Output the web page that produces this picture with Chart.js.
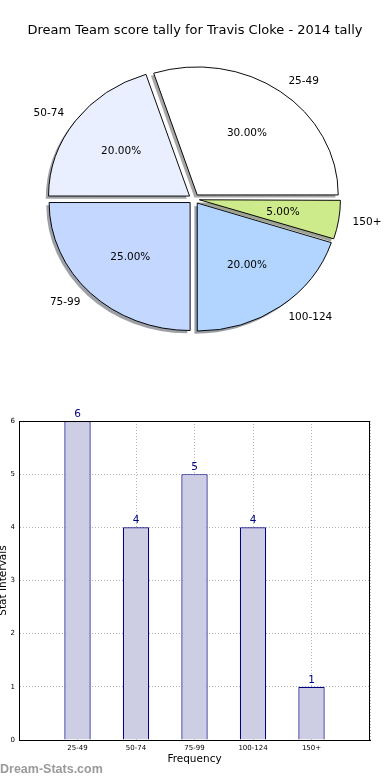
<!DOCTYPE html>
<html>
<head>
<meta charset="utf-8">
<script src="https://cdn.jsdelivr.net/npm/chart.js@4/dist/chart.umd.min.js"></script>
<style>
  body { margin: 0; background: #fff; }
  #wrap { position: relative; width: 390px; height: 780px; overflow: hidden; }
  #title { position: absolute; left: 0; top: 22px; width: 390px; text-align: center;
           font: 13px "DejaVu Sans"; color: #000; }
  #pieBox { position: absolute; left: 0; top: 0; width: 390px; height: 380px; }
  #barBox { position: absolute; left: 0; top: 380px; width: 390px; height: 400px; }
  #mark { position: absolute; left: 0; top: 762px; font: bold 12.5px "Liberation Sans"; color: #9a9a9a; }
</style>
</head>
<body>
<div id="wrap">
  <div id="pieBox"><canvas id="pieChart" width="390" height="380"></canvas></div>
  <div id="barBox"><canvas id="barChart" width="390" height="400"></canvas></div>
  <div id="title">Dream Team score tally for Travis Cloke - 2014 tally</div>
  <div id="mark">Dream-Stats.com</div>
</div>
<script>
const categories = ['25-49', '50-74', '75-99', '100-124', '150+'];
const counts = [6, 4, 5, 4, 1];
const pieColors = ['#ffffff', '#e9effe', '#c4d7ff', '#b1d5ff', '#cdeb8b'];
const yTicks = [0, 1, 2, 3, 4, 5, 6];

Chart.defaults.font.family = 'DejaVu Sans';
Chart.defaults.color = '#000';

const total = counts.reduce((a, b) => a + b, 0);
// matplotlib goes counter-clockwise from 3 o'clock, chart.js goes clockwise
const order = categories.map((c, i) => i).reverse();
const K = 128 / 141; // pie is squashed vertically

function shadowOf(hex) {
  const n = parseInt(hex.slice(1), 16);
  const r = ((n >> 16) & 255) * 0.3, g = ((n >> 8) & 255) * 0.3, b = (n & 255) * 0.3;
  return 'rgba(' + Math.round(r) + ',' + Math.round(g) + ',' + Math.round(b) + ',0.5)';
}

const ellipsePie = {
  id: 'ellipsePie',
  beforeDatasetsDraw(chart) {
    const ctx = chart.ctx;
    const arcs = chart.getDatasetMeta(0).data;
    const cx = arcs[0].x, cy = arcs[0].y;
    // chart.js grows small exploded slices a bit, undo that
    arcs.forEach(arc => {
      arc.baseR = arc.outerRadius;
      const fix = 1 - Math.sin(Math.min(Math.PI, arc.circumference));
      arc.outerRadius = arc.baseR - arc.options.offset / 4 * fix;
    });
    ctx.save();
    ctx.translate(cx, cy);
    ctx.scale(1, K);
    ctx.translate(-cx, -cy);
    // shadows first
    arcs.forEach((arc, j) => {
      const fake = Object.create(arc);
      fake.options = Object.assign({}, arc.options, {
        backgroundColor: shadowOf(pieColors[order[j]]),
        borderWidth: 0
      });
      ctx.save();
      ctx.translate(-2.8, 2.6 / K);
      arc.draw.call(fake, ctx);
      ctx.restore();
    });
  },
  afterDatasetsDraw(chart) {
    const ctx = chart.ctx;
    ctx.restore();
    const arcs = chart.getDatasetMeta(0).data;
    ctx.save();
    ctx.fillStyle = '#000';
    ctx.font = '10.5px "DejaVu Sans"';
    ctx.textBaseline = 'middle';
    arcs.forEach((arc, j) => {
      arc.outerRadius = arc.baseR;
      const i = order[j];
      const mid = (arc.startAngle + arc.endAngle) / 2;
      const off = arc.options.offset / 4;
      const R = arc.outerRadius;
      const px = r => arc.x + Math.cos(mid) * (off + r);
      const py = r => arc.y + K * Math.sin(mid) * (off + r);
      ctx.textAlign = Math.cos(mid) > 0 ? 'left' : 'right';
      ctx.fillText(categories[i], px(1.1 * R), py(1.1 * R));
      ctx.textAlign = 'center';
      ctx.fillText((counts[i] / total * 100).toFixed(2) + '%', px(0.6 * R), py(0.6 * R));
    });
    ctx.restore();
  }
};

new Chart(document.getElementById('pieChart').getContext('2d'), {
  type: 'pie',
  data: {
    labels: order.map(i => categories[i]),
    datasets: [{
      data: order.map(i => counts[i]),
      backgroundColor: order.map(i => pieColors[i]),
      borderColor: '#000',
      borderWidth: 1,
      offset: 22,
      clip: false
    }]
  },
  options: {
    responsive: false,
    animation: false,
    rotation: 90,
    radius: 141,
    layout: { padding: { left: 0, right: 2, top: 20, bottom: 2 } },
    plugins: { legend: { display: false }, tooltip: { enabled: false } }
  },
  plugins: [ellipsePie]
});

// bar chart
const barExtras = {
  id: 'barExtras',
  afterDraw(chart) {
    const ctx = chart.ctx;
    const a = chart.chartArea;
    ctx.save();
    ctx.strokeStyle = '#000';
    ctx.lineWidth = 1;
    ctx.strokeRect(Math.round(a.left) + 0.5, Math.round(a.top) + 0.5,
                   Math.round(a.right - a.left) - 1, Math.round(a.bottom - a.top));
    ctx.fillStyle = '#000080';
    ctx.font = '10.5px "DejaVu Sans"';
    ctx.textAlign = 'center';
    ctx.textBaseline = 'alphabetic';
    chart.getDatasetMeta(0).data.forEach((bar, i) => {
      ctx.fillText(String(counts[i]), bar.x, bar.y - 4);
    });
    ctx.restore();
  }
};

new Chart(document.getElementById('barChart').getContext('2d'), {
  type: 'bar',
  data: {
    datasets: [{
      data: counts.map((v, i) => ({ x: i + 1, y: v })),
      backgroundColor: '#cdcde4',
      borderColor: '#000080',
      borderWidth: 1.2,
      barPercentage: 0.45,
      categoryPercentage: 1
    }]
  },
  options: {
    responsive: false,
    animation: false,
    layout: { padding: { left: 0, right: 20, top: 41, bottom: 0 } },
    plugins: { legend: { display: false }, tooltip: { enabled: false } },
    scales: {
      x: {
        type: 'linear',
        offset: false,
        min: 0,
        max: categories.length + 1,
        z: 1,
        afterFit(s) { s.height = 40; },
        ticks: {
          stepSize: 1,
          autoSkip: false,
          maxRotation: 0,
          padding: 4,
          font: { size: 7 },
          color: '#000',
          callback: v => categories[v - 1] || ''
        },
        grid: { offset: false, color: '#b4b4b4', lineWidth: 1, drawTicks: false },
        border: { color: '#000', width: 1, dash: [1, 2] },
        title: { display: true, text: 'Frequency', font: { size: 10.5 }, color: '#000',
                 padding: { top: 0, bottom: 14 } }
      },
      y: {
        min: yTicks[0],
        max: yTicks[yTicks.length - 1],
        z: 1,
        afterFit(s) { s.width = 19; },
        ticks: { stepSize: 1, padding: 4, font: { size: 7 }, color: '#000' },
        grid: { color: '#b4b4b4', lineWidth: 1, drawTicks: false },
        border: { color: '#000', width: 1, dash: [1, 2] },
        title: { display: true, text: 'Stat Intervals', font: { size: 10.5 }, color: '#000',
                 padding: { top: -3, bottom: 0 } }
      }
    }
  },
  plugins: [barExtras]
});
</script>
</body>
</html>
